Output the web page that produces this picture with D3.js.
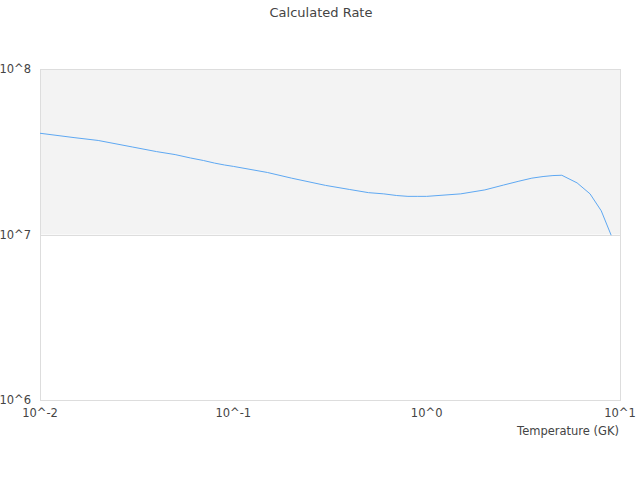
<!DOCTYPE html>
<html>
<head>
<meta charset="utf-8">
<script src="https://cdn.jsdelivr.net/npm/d3@7"></script>
<style>
  body { margin: 0; background: #fff; }
  svg text { font-family: "DejaVu Sans", sans-serif; fill: #444; }
</style>
</head>
<body>
<svg id="chart" width="640" height="480"></svg>
<script>
// temperature grid (GK) and calculated rate
const temperatures = [0.01, 0.015, 0.02, 0.03, 0.04, 0.05, 0.06, 0.07, 0.08, 0.09,
  0.1, 0.15, 0.2, 0.3, 0.4, 0.5, 0.6, 0.7, 0.8, 0.9,
  1, 1.5, 2, 2.5, 3, 3.5, 4, 4.5, 5, 6, 7, 8, 9];
const rates = [4.09e7, 3.85e7, 3.70e7, 3.38e7, 3.17e7, 3.04e7, 2.90e7, 2.80e7, 2.70e7, 2.63e7,
  2.58e7, 2.37e7, 2.19e7, 1.98e7, 1.87e7, 1.79e7, 1.76e7, 1.72e7, 1.70e7, 1.70e7,
  1.70e7, 1.76e7, 1.86e7, 1.99e7, 2.10e7, 2.19e7, 2.24e7, 2.27e7, 2.28e7, 2.05e7, 1.76e7, 1.39e7, 0.99e7];
const xTicks = [0.01, 0.1, 1, 10];
const xTickLabels = ["10^-2", "10^-1", "10^0", "10^1"];
const yTicks = [1e6, 1e7, 1e8];
const yTickLabels = ["10^6", "10^7", "10^8"];

const svg = d3.select("#chart");
const plot = { left: 40, right: 620, top: 69, bottom: 400 };

const x = d3.scaleLog().domain([0.01, 10]).range([plot.left, plot.right]);
const y = d3.scaleLog().domain([1e6, 1e8]).range([plot.bottom, plot.top]);

// title
svg.append("text")
  .attr("x", 321).attr("y", 12)
  .attr("dy", "0.35em")
  .attr("text-anchor", "middle")
  .style("font-size", "13px")
  .text("Calculated Rate");

// shaded band between 10^7 and 10^8
svg.append("rect")
  .attr("x", plot.left).attr("y", y(1e8))
  .attr("width", plot.right - plot.left).attr("height", y(1e7) - y(1e8))
  .attr("fill", "#f3f3f3");

// horizontal grid lines
svg.selectAll(".grid")
  .data(yTicks)
  .enter()
  .append("line")
  .attr("class", "grid")
  .attr("x1", plot.left).attr("x2", plot.right)
  .attr("y1", (d) => Math.round(y(d)) + 0.5).attr("y2", (d) => Math.round(y(d)) + 0.5)
  .attr("stroke", "#dddddd");

// frame
svg.append("rect")
  .attr("x", plot.left + 0.5).attr("y", plot.top + 0.5)
  .attr("width", plot.right - plot.left).attr("height", plot.bottom - plot.top)
  .attr("fill", "none")
  .attr("stroke", "#dddddd");

// y labels
svg.selectAll(".ylab")
  .data(yTicks)
  .enter()
  .append("text")
  .attr("class", "ylab")
  .attr("x", 31).attr("y", (d) => y(d))
  .attr("dy", "0.35em")
  .attr("text-anchor", "end")
  .style("font-size", "11.5px")
  .text((d, i) => yTickLabels[i]);

// x labels
svg.selectAll(".xlab")
  .data(xTicks)
  .enter()
  .append("text")
  .attr("class", "xlab")
  .attr("x", (d) => x(d)).attr("y", 413)
  .attr("dy", "0.35em")
  .attr("text-anchor", "middle")
  .style("font-size", "11.5px")
  .text((d, i) => xTickLabels[i]);

svg.append("text")
  .attr("x", 619).attr("y", 431)
  .attr("dy", "0.35em")
  .attr("text-anchor", "end")
  .style("font-size", "11.5px")
  .text("Temperature (GK)");

// rate curve
const line = d3.line()
  .x((d, i) => x(temperatures[i]))
  .y((d) => y(d));

svg.append("path")
  .datum(rates)
  .attr("d", line)
  .attr("fill", "none")
  .attr("stroke", "#5ea8f2")
  .attr("stroke-width", 1);
</script>
</body>
</html>
